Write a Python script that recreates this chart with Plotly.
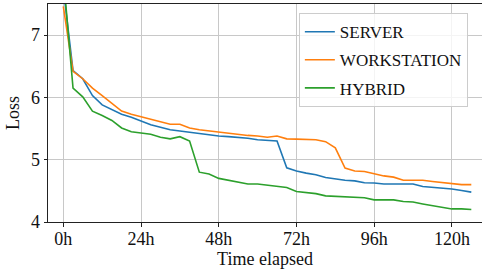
import plotly.graph_objects as go

hours = list(range(0, 127, 3))

server = [7.75, 6.43, 6.30, 6.03, 5.88, 5.81, 5.73, 5.68, 5.62, 5.56, 5.52, 5.48,
          5.46, 5.44, 5.41, 5.40, 5.38, 5.37, 5.36, 5.345, 5.32, 5.31, 5.30, 4.87,
          4.82, 4.785, 4.76, 4.715, 4.69, 4.67, 4.66, 4.63, 4.625, 4.61, 4.61, 4.61,
          4.61, 4.57, 4.56, 4.545, 4.53, 4.505, 4.48]

workstation = [7.46, 6.42, 6.30, 6.15, 6.03, 5.90, 5.78, 5.73, 5.69, 5.65, 5.60, 5.57,
               5.57, 5.51, 5.48, 5.46, 5.44, 5.42, 5.40, 5.39, 5.38, 5.36, 5.38, 5.335,
               5.33, 5.325, 5.32, 5.29, 5.19, 4.865, 4.82, 4.81, 4.77, 4.74, 4.72, 4.67,
               4.67, 4.67, 4.65, 4.635, 4.61, 4.60, 4.60]

hybrid = [7.95, 6.15, 6.01, 5.78, 5.71, 5.63, 5.51, 5.45, 5.43, 5.41, 5.36, 5.335,
          5.37, 5.30, 4.80, 4.77, 4.70, 4.67, 4.65, 4.61, 4.61, 4.59, 4.58, 4.555,
          4.49, 4.475, 4.455, 4.42, 4.41, 4.41, 4.39, 4.39, 4.355, 4.355, 4.355, 4.33,
          4.32, 4.29, 4.26, 4.24, 4.21, 4.21, 4.20]

series = [("SERVER", server, "#1f77b4"),
          ("WORKSTATION", workstation, "#ff7f0e"),
          ("HYBRID", hybrid, "#2ca02c")]

tick_vals = [0, 24, 48, 72, 96, 120]
tick_text = ["0h", "24h", "48h", "72h", "96h", "120h"]

FONT = "Liberation Serif"

fig = go.Figure()
for name, vals, color in series:
    fig.add_trace(go.Scatter(x=hours, y=vals, mode="lines", name=name,
                             legendgroup=name,
                             line=dict(color=color, width=1.6)))

fig.update_layout(
    width=482, height=271,
    margin=dict(l=48, r=0, t=4, b=49, autoexpand=False),
    paper_bgcolor="white", plot_bgcolor="white",
    font=dict(family=FONT, size=18, color="#111111"),
    showlegend=True,
    legend=dict(x=0.578, y=0.958, xanchor="left", yanchor="top",
                bgcolor="rgba(255,255,255,0.8)", bordercolor="#cccccc",
                borderwidth=1, font=dict(family=FONT, size=17, color="#111111"),
                tracegroupgap=3),
)
fig.update_xaxes(range=[-4.73, 129.3], tickvals=tick_vals, ticktext=tick_text,
                 showgrid=True, gridcolor="#c8c8c8", gridwidth=1,
                 showline=True, linecolor="#222222", linewidth=1, mirror=True,
                 ticks="outside", ticklen=3.5, tickcolor="#222222",
                 ticklabelstandoff=-3,
                 zeroline=False, automargin=False,
                 tickfont=dict(family=FONT, size=18, color="#111111"),
                 title=dict(text="Time elapsed", standoff=2,
                            font=dict(family=FONT, size=18, color="#111111")))
fig.update_yaxes(range=[4, 7.5], tickvals=[4, 5, 6, 7],
                 showgrid=True, gridcolor="#c8c8c8", gridwidth=1,
                 showline=True, linecolor="#222222", linewidth=1,
                 ticks="outside", ticklen=3.5, tickcolor="#222222",
                 zeroline=False, automargin=False,
                 tickfont=dict(family=FONT, size=18, color="#111111"),
                 title=dict(text="Loss", standoff=6,
                            font=dict(family=FONT, size=18, color="#111111")))

fig.write_html("out.html", config={"displayModeBar": False},
               post_script="document.body.style.margin='0';document.body.style.padding='0';")
